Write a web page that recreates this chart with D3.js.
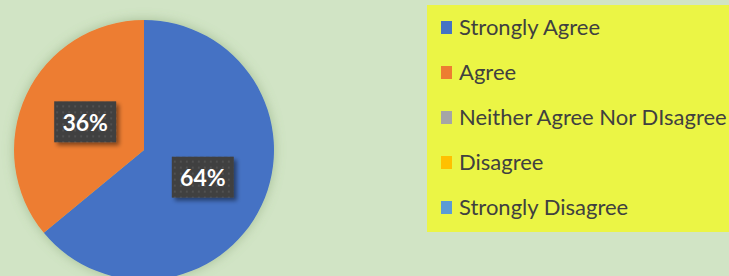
<!DOCTYPE html>
<html>
<head>
<meta charset="utf-8">
<script src="https://cdn.jsdelivr.net/npm/d3@7"></script>
<style>
  html, body { margin: 0; padding: 0; background: #d1e4c5; }
  svg { display: block; }
</style>
</head>
<body>
<div id="chart"></div>
<script>
const categories = ["Strongly Agree", "Agree", "Neither Agree Nor DIsagree", "Disagree", "Strongly Disagree"];
const values = [64, 36, 0, 0, 0];
const colors = ["#4472c4", "#ed7d31", "#a5a5a5", "#ffc000", "#5b9bd5"];

const width = 729, height = 276;
const svg = d3.select("#chart").append("svg")
    .attr("width", width)
    .attr("height", height);

svg.append("rect")
    .attr("width", width)
    .attr("height", height)
    .attr("fill", "#d1e4c5");

const defs = svg.append("defs");

// soft glow round the pie
const pieShadow = defs.append("filter").attr("id", "pieShadow")
    .attr("x", "-20%").attr("y", "-20%").attr("width", "140%").attr("height", "140%");
pieShadow.append("feDropShadow")
    .attr("dx", 0).attr("dy", 0).attr("stdDeviation", 6)
    .attr("flood-color", "#6e8f5c").attr("flood-opacity", 0.45);

// label box shadow
const boxShadow = defs.append("filter").attr("id", "boxShadow")
    .attr("x", "-30%").attr("y", "-30%").attr("width", "160%").attr("height", "160%");
boxShadow.append("feDropShadow")
    .attr("dx", 3).attr("dy", 3).attr("stdDeviation", 2)
    .attr("flood-color", "#000").attr("flood-opacity", 0.45);

// dotted fill of the label boxes
const dots = defs.append("pattern").attr("id", "dots")
    .attr("width", 6).attr("height", 6)
    .attr("patternUnits", "userSpaceOnUse");
dots.append("rect").attr("width", 6).attr("height", 6).attr("fill", "#404040");
dots.append("rect").attr("x", 1).attr("y", 1).attr("width", 2).attr("height", 2).attr("fill", "#515151");

// Pie
const cx = 144, cy = 150, radius = 130;
const pie = d3.pie().sort(null).value(d => d)(values);
const arc = d3.arc().innerRadius(0).outerRadius(radius);

const g = svg.append("g").attr("transform", `translate(${cx},${cy})`);
g.append("g").attr("filter", "url(#pieShadow)")
    .selectAll("path")
    .data(pie.filter(d => d.value > 0))
    .enter().append("path")
    .attr("d", arc)
    .attr("fill", d => colors[d.index]);

const total = d3.sum(values);
const labels = g.selectAll(".lbl")
    .data(pie.filter(d => d.value > 0))
    .enter().append("g")
    .attr("class", "lbl")
    .attr("transform", d => `translate(${arc.centroid(d)})`);

labels.append("rect")
    .attr("x", -31).attr("y", -21)
    .attr("width", 62).attr("height", 41)
    .attr("fill", "url(#dots)")
    .attr("filter", "url(#boxShadow)");

labels.append("text")
    .attr("text-anchor", "middle")
    .attr("dy", "0.36em")
    .style("font-family", "Lato, 'Open Sans', sans-serif")
    .style("font-weight", "bold")
    .style("font-size", "23px")
    .style("fill", "#ffffff")
    .text(d => Math.round(d.value / total * 100) + "%");

// Legend
const legend = svg.append("g");
legend.append("rect")
    .attr("x", 427).attr("y", 5)
    .attr("width", width - 427).attr("height", 227)
    .attr("fill", "#ebf545");

const rowY = d3.scalePoint().domain(categories).range([27, 207]);

const items = legend.selectAll(".item")
    .data(categories)
    .enter().append("g")
    .attr("class", "item")
    .attr("transform", d => `translate(0,${rowY(d)})`);

items.append("rect")
    .attr("x", 441).attr("y", -6)
    .attr("width", 11).attr("height", 13)
    .attr("fill", (d, i) => colors[i]);

items.append("text")
    .attr("x", 459)
    .attr("dy", "0.36em")
    .style("font-family", "Lato, 'Open Sans', sans-serif")
    .style("font-size", "22px")
    .style("fill", "#404040")
    .text(d => d);
</script>
</body>
</html>
